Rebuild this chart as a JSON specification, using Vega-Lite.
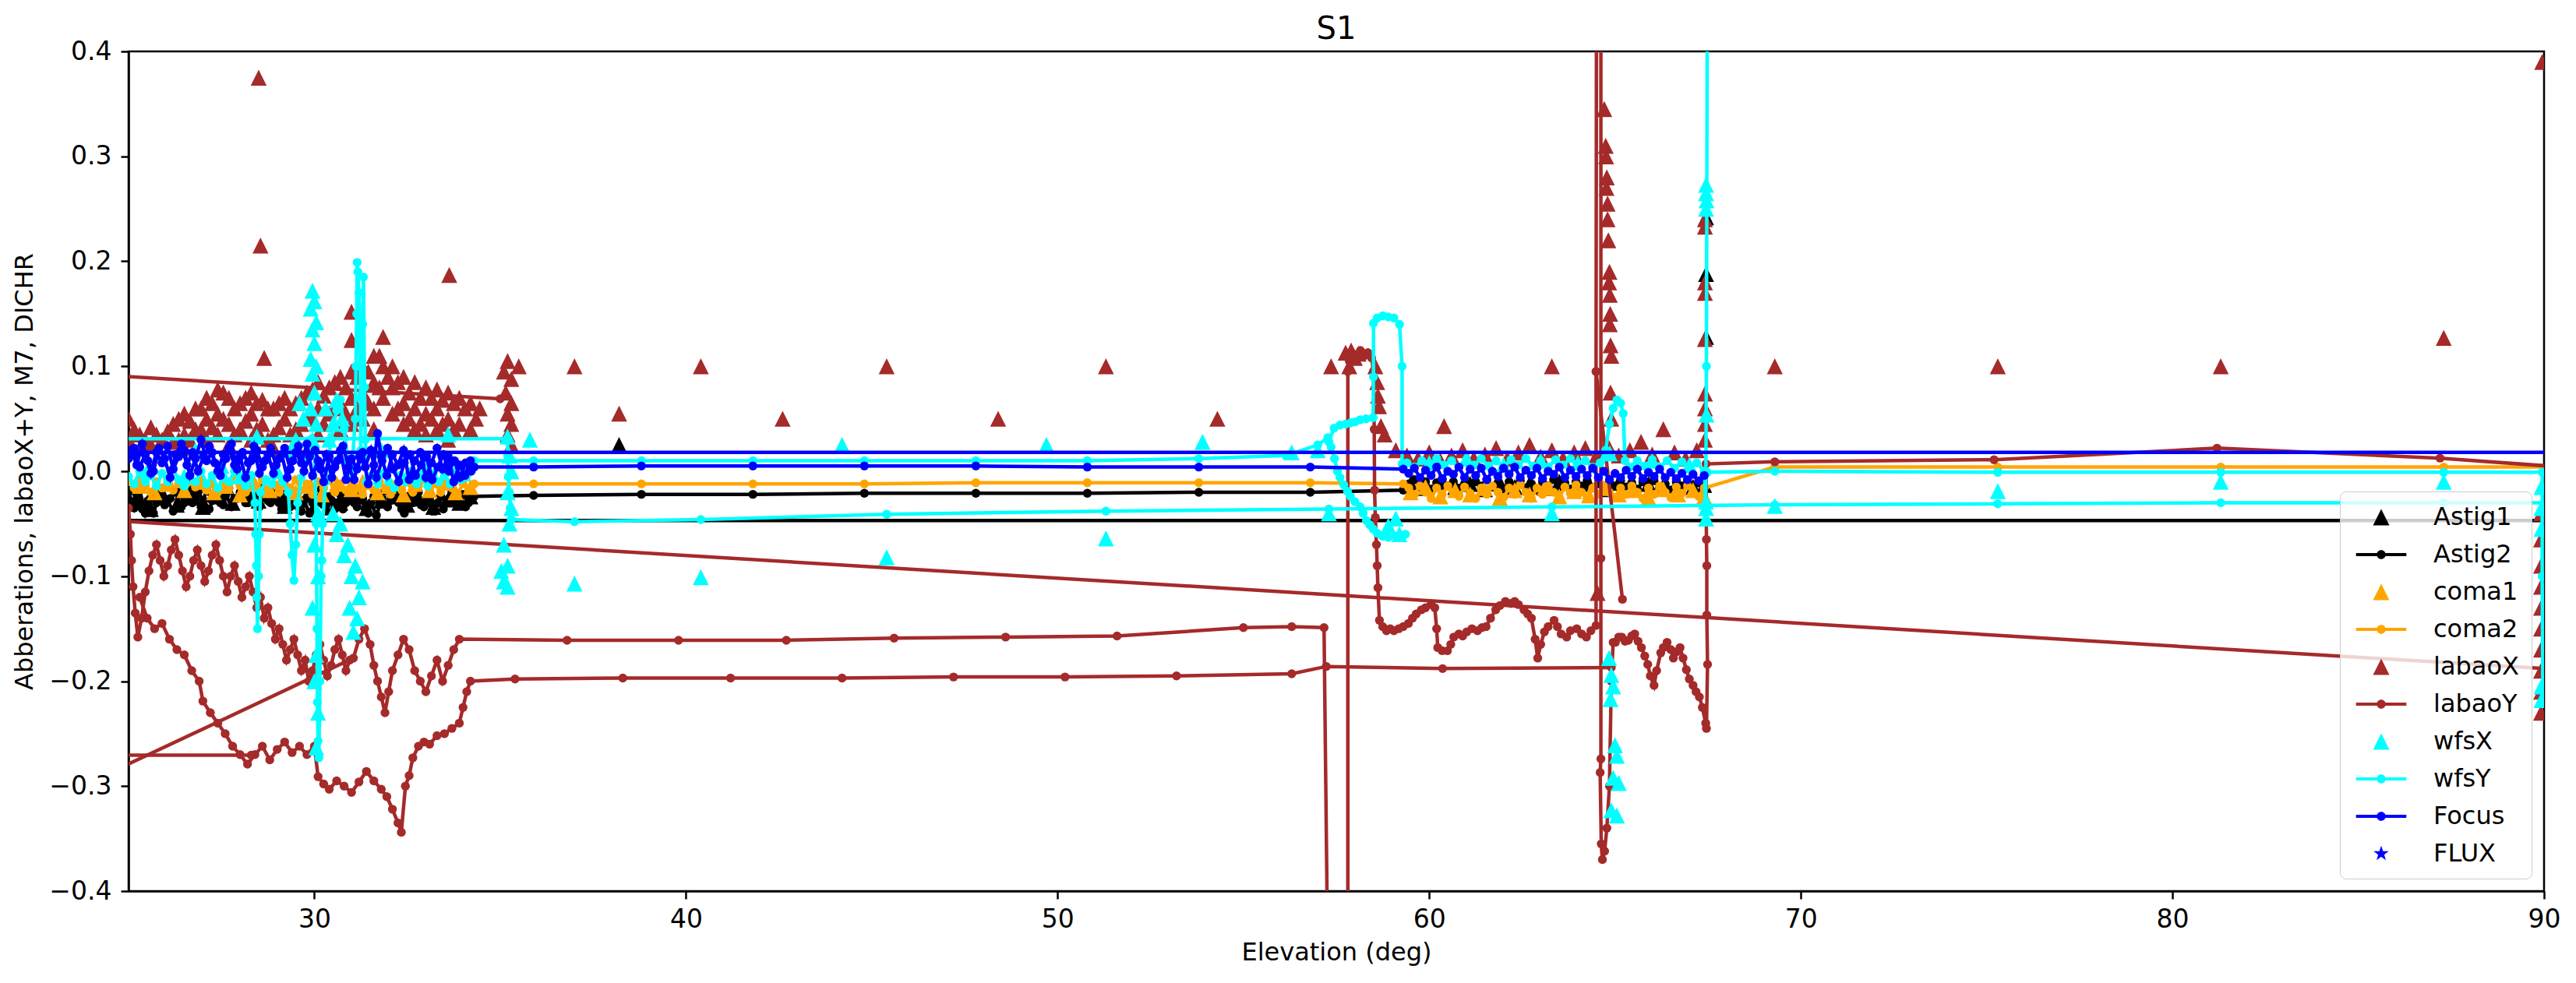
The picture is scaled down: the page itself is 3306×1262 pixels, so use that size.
{
  "$schema": "https://vega.github.io/schema/vega-lite/v6.json",
  "width": 3100,
  "height": 1078,
  "autosize": {"type": "none"},
  "padding": {"left": 165, "top": 66, "right": 41, "bottom": 118},
  "background": "white",
  "config": {
    "font": "DejaVu Sans",
    "view": {"stroke": "black", "strokeWidth": 2.5},
    "axis": {
      "grid": false, "domainColor": "black", "domainWidth": 2.5,
      "tickColor": "black", "tickWidth": 2.5, "tickSize": 10,
      "labelFont": "DejaVu Sans", "labelFontSize": 33, "labelColor": "black",
      "labelFlush": false, "labelOverlap": false,
      "titleFont": "DejaVu Sans", "titleFontSize": 32, "titleFontWeight": "normal", "titleColor": "black",
      "zindex": 1
    }
  },
  "title": {"text": "S1", "font": "DejaVu Sans", "fontSize": 40, "fontWeight": "normal", "color": "black", "offset": 0, "dy": 40, "anchor": "middle", "frame": "group", "baseline": "alphabetic"},
  "datasets": {
    "A1": [{"x":25.2,"y":-0.028},{"x":25.6,"y":-0.036},{"x":25.9,"y":-0.022},{"x":26.3,"y":-0.032},{"x":26.7,"y":-0.025},{"x":27.0,"y":-0.034},{"x":27.4,"y":-0.024},{"x":27.8,"y":-0.03},{"x":28.1,"y":-0.02},{"x":28.5,"y":-0.028},{"x":28.9,"y":-0.024},{"x":29.2,"y":-0.033},{"x":29.6,"y":-0.027},{"x":30.0,"y":-0.036},{"x":30.3,"y":-0.025},{"x":30.7,"y":-0.03},{"x":31.0,"y":-0.022},{"x":31.4,"y":-0.035},{"x":31.8,"y":-0.028},{"x":32.1,"y":-0.024},{"x":32.5,"y":-0.032},{"x":32.8,"y":-0.026},{"x":33.2,"y":-0.034},{"x":33.6,"y":-0.027},{"x":33.9,"y":-0.03},{"x":34.2,"y":-0.024},{"x":38.2,"y":0.025},{"x":59.5,"y":-0.012},{"x":59.9,"y":-0.016},{"x":60.3,"y":-0.01},{"x":60.7,"y":-0.015},{"x":61.1,"y":-0.012},{"x":61.5,"y":-0.017},{"x":61.9,"y":-0.011},{"x":62.3,"y":-0.015},{"x":62.7,"y":-0.012},{"x":63.1,"y":-0.016},{"x":63.5,"y":-0.01},{"x":63.9,"y":-0.015},{"x":64.3,"y":-0.012},{"x":64.7,"y":-0.017},{"x":65.1,"y":-0.011},{"x":65.5,"y":-0.015},{"x":65.9,"y":-0.012},{"x":66.3,"y":-0.016},{"x":66.7,"y":-0.012},{"x":67.1,"y":-0.015},{"x":67.4,"y":-0.013},{"x":67.45,"y":0.128},{"x":67.45,"y":0.188},{"x":67.45,"y":0.242}],
    "A2": [{"x":25.0,"y":-0.02},{"x":25.15,"y":-0.035},{"x":25.3,"y":-0.018},{"x":25.45,"y":-0.04},{"x":25.6,"y":-0.025},{"x":25.75,"y":-0.03},{"x":25.9,"y":-0.016},{"x":26.05,"y":-0.028},{"x":26.2,"y":-0.038},{"x":26.35,"y":-0.02},{"x":26.5,"y":-0.03},{"x":26.65,"y":-0.015},{"x":26.8,"y":-0.026},{"x":26.95,"y":-0.034},{"x":27.1,"y":-0.018},{"x":27.25,"y":-0.028},{"x":27.4,"y":-0.022},{"x":27.55,"y":-0.032},{"x":27.7,"y":-0.016},{"x":27.85,"y":-0.026},{"x":28.0,"y":-0.02},{"x":28.15,"y":-0.03},{"x":28.3,"y":-0.018},{"x":28.45,"y":-0.024},{"x":28.6,"y":-0.016},{"x":28.75,"y":-0.028},{"x":28.9,"y":-0.02},{"x":29.05,"y":-0.03},{"x":29.2,"y":-0.022},{"x":29.35,"y":-0.034},{"x":29.5,"y":-0.02},{"x":29.65,"y":-0.038},{"x":29.8,"y":-0.025},{"x":29.95,"y":-0.03},{"x":30.1,"y":-0.018},{"x":30.25,"y":-0.032},{"x":30.4,"y":-0.024},{"x":30.55,"y":-0.036},{"x":30.7,"y":-0.022},{"x":30.85,"y":-0.03},{"x":31.0,"y":-0.02},{"x":31.15,"y":-0.034},{"x":31.3,"y":-0.026},{"x":31.45,"y":-0.04},{"x":31.6,"y":-0.024},{"x":31.75,"y":-0.03},{"x":31.9,"y":-0.018},{"x":32.05,"y":-0.028},{"x":32.2,"y":-0.022},{"x":32.35,"y":-0.036},{"x":32.5,"y":-0.024},{"x":32.65,"y":-0.03},{"x":32.8,"y":-0.02},{"x":32.95,"y":-0.034},{"x":33.1,"y":-0.026},{"x":33.25,"y":-0.038},{"x":33.4,"y":-0.024},{"x":33.55,"y":-0.03},{"x":33.7,"y":-0.02},{"x":33.85,"y":-0.032},{"x":34.0,"y":-0.022},{"x":34.15,"y":-0.03},{"x":34.3,"y":-0.024},{"x":35.9,"y":-0.023},{"x":38.8,"y":-0.022},{"x":41.8,"y":-0.022},{"x":44.8,"y":-0.021},{"x":47.8,"y":-0.021},{"x":50.8,"y":-0.021},{"x":53.8,"y":-0.02},{"x":56.8,"y":-0.02},{"x":59.3,"y":-0.018},{"x":59.45,"y":-0.012},{"x":59.6,"y":-0.008},{"x":59.75,"y":-0.015},{"x":59.9,"y":-0.01},{"x":60.05,"y":-0.017},{"x":60.2,"y":-0.011},{"x":60.35,"y":-0.008},{"x":60.5,"y":-0.014},{"x":60.65,"y":-0.01},{"x":60.8,"y":-0.016},{"x":60.95,"y":-0.012},{"x":61.1,"y":-0.018},{"x":61.25,"y":-0.01},{"x":61.4,"y":-0.014},{"x":61.55,"y":-0.008},{"x":61.7,"y":-0.015},{"x":61.85,"y":-0.011},{"x":62.0,"y":-0.017},{"x":62.15,"y":-0.01},{"x":62.3,"y":-0.014},{"x":62.45,"y":-0.009},{"x":62.6,"y":-0.016},{"x":62.75,"y":-0.012},{"x":62.9,"y":-0.018},{"x":63.05,"y":-0.01},{"x":63.2,"y":-0.014},{"x":63.35,"y":-0.008},{"x":63.5,"y":-0.015},{"x":63.65,"y":-0.011},{"x":63.8,"y":-0.017},{"x":63.95,"y":-0.01},{"x":64.1,"y":-0.014},{"x":64.25,"y":-0.009},{"x":64.4,"y":-0.016},{"x":64.55,"y":-0.012},{"x":64.7,"y":-0.018},{"x":64.85,"y":-0.01},{"x":65.0,"y":-0.014},{"x":65.15,"y":-0.009},{"x":65.3,"y":-0.015},{"x":65.45,"y":-0.011},{"x":65.6,"y":-0.017},{"x":65.75,"y":-0.01},{"x":65.9,"y":-0.014},{"x":66.05,"y":-0.009},{"x":66.2,"y":-0.016},{"x":66.35,"y":-0.012},{"x":66.5,"y":-0.018},{"x":66.65,"y":-0.01},{"x":66.8,"y":-0.014},{"x":66.95,"y":-0.009},{"x":67.1,"y":-0.015},{"x":67.25,"y":-0.011},{"x":67.4,"y":-0.016},{"g":2,"x":24.0,"y":-0.047},{"g":2,"x":91.0,"y":-0.047},
      {"g":3,"x":25.07,"y":-0.03},{"g":3,"x":25.22,"y":-0.022},{"g":3,"x":25.37,"y":-0.036},{"g":3,"x":25.52,"y":-0.028},{"g":3,"x":25.67,"y":-0.04},{"g":3,"x":25.82,"y":-0.022},{"g":3,"x":25.97,"y":-0.032},{"g":3,"x":26.12,"y":-0.026},{"g":3,"x":26.27,"y":-0.02},{"g":3,"x":26.42,"y":-0.034},{"g":3,"x":26.57,"y":-0.024},{"g":3,"x":26.72,"y":-0.03},{"g":3,"x":26.87,"y":-0.02},{"g":3,"x":27.02,"y":-0.028},{"g":3,"x":27.17,"y":-0.036},{"g":3,"x":27.32,"y":-0.024},{"g":3,"x":27.47,"y":-0.03},{"g":3,"x":27.62,"y":-0.022},{"g":3,"x":27.77,"y":-0.034},{"g":3,"x":27.92,"y":-0.026},{"g":3,"x":28.07,"y":-0.018},{"g":3,"x":28.22,"y":-0.03},{"g":3,"x":28.37,"y":-0.024},{"g":3,"x":28.52,"y":-0.034},{"g":3,"x":28.67,"y":-0.022},{"g":3,"x":28.82,"y":-0.03},{"g":3,"x":28.97,"y":-0.026},{"g":3,"x":29.12,"y":-0.036},{"g":3,"x":29.27,"y":-0.028},{"g":3,"x":29.42,"y":-0.024},{"g":3,"x":29.57,"y":-0.034},{"g":3,"x":29.72,"y":-0.028},{"g":3,"x":29.87,"y":-0.04},{"g":3,"x":30.02,"y":-0.026},{"g":3,"x":30.17,"y":-0.03},{"g":3,"x":30.32,"y":-0.038},{"g":3,"x":30.47,"y":-0.028},{"g":3,"x":30.62,"y":-0.03},{"g":3,"x":30.77,"y":-0.036},{"g":3,"x":30.92,"y":-0.026},{"g":3,"x":31.07,"y":-0.03},{"g":3,"x":31.22,"y":-0.024},{"g":3,"x":31.37,"y":-0.036},{"g":3,"x":31.52,"y":-0.03},{"g":3,"x":31.67,"y":-0.042},{"g":3,"x":31.82,"y":-0.026},{"g":3,"x":31.97,"y":-0.034},{"g":3,"x":32.12,"y":-0.026},{"g":3,"x":32.27,"y":-0.03},{"g":3,"x":32.42,"y":-0.04},{"g":3,"x":32.57,"y":-0.028},{"g":3,"x":32.72,"y":-0.024},{"g":3,"x":32.87,"y":-0.032},{"g":3,"x":33.02,"y":-0.026},{"g":3,"x":33.17,"y":-0.038},{"g":3,"x":33.32,"y":-0.03},{"g":3,"x":33.47,"y":-0.036},{"g":3,"x":33.62,"y":-0.026},{"g":3,"x":33.77,"y":-0.03},{"g":3,"x":33.92,"y":-0.024},{"g":3,"x":34.07,"y":-0.034},{"g":3,"x":34.22,"y":-0.026}],
    "C1": [{"x":25.3,"y":-0.014},{"x":25.7,"y":-0.02},{"x":26.1,"y":-0.012},{"x":26.5,"y":-0.018},{"x":26.9,"y":-0.01},{"x":27.3,"y":-0.02},{"x":27.6,"y":-0.014},{"x":28.0,"y":-0.022},{"x":28.4,"y":-0.012},{"x":28.8,"y":-0.018},{"x":29.1,"y":-0.01},{"x":29.5,"y":-0.02},{"x":29.9,"y":-0.014},{"x":30.2,"y":-0.022},{"x":30.6,"y":-0.012},{"x":31.0,"y":-0.017},{"x":31.3,"y":-0.01},{"x":31.7,"y":-0.02},{"x":32.0,"y":-0.014},{"x":32.4,"y":-0.022},{"x":32.7,"y":-0.012},{"x":33.1,"y":-0.018},{"x":33.5,"y":-0.011},{"x":33.8,"y":-0.02},{"x":34.2,"y":-0.015},{"x":59.5,"y":-0.02},{"x":59.9,"y":-0.015},{"x":60.3,"y":-0.024},{"x":60.7,"y":-0.018},{"x":61.1,"y":-0.022},{"x":61.5,"y":-0.016},{"x":61.9,"y":-0.025},{"x":62.3,"y":-0.018},{"x":62.7,"y":-0.022},{"x":63.1,"y":-0.016},{"x":63.5,"y":-0.024},{"x":63.9,"y":-0.019},{"x":64.3,"y":-0.023},{"x":64.7,"y":-0.016},{"x":65.1,"y":-0.022},{"x":65.5,"y":-0.018},{"x":65.9,"y":-0.025},{"x":66.3,"y":-0.017},{"x":66.7,"y":-0.022},{"x":67.1,"y":-0.018},{"x":67.4,"y":-0.024}],
    "C2": [{"x":25.0,"y":-0.01},{"x":25.15,"y":-0.016},{"x":25.3,"y":-0.008},{"x":25.45,"y":-0.014},{"x":25.6,"y":-0.02},{"x":25.75,"y":-0.01},{"x":25.9,"y":-0.016},{"x":26.05,"y":-0.008},{"x":26.2,"y":-0.018},{"x":26.35,"y":-0.012},{"x":26.5,"y":-0.02},{"x":26.65,"y":-0.01},{"x":26.8,"y":-0.015},{"x":26.95,"y":-0.008},{"x":27.1,"y":-0.018},{"x":27.25,"y":-0.012},{"x":27.4,"y":-0.02},{"x":27.55,"y":-0.01},{"x":27.7,"y":-0.016},{"x":27.85,"y":-0.008},{"x":28.0,"y":-0.014},{"x":28.15,"y":-0.02},{"x":28.3,"y":-0.01},{"x":28.45,"y":-0.016},{"x":28.6,"y":-0.008},{"x":28.75,"y":-0.018},{"x":28.9,"y":-0.012},{"x":29.05,"y":-0.02},{"x":29.2,"y":-0.01},{"x":29.35,"y":-0.016},{"x":29.5,"y":-0.008},{"x":29.65,"y":-0.018},{"x":29.8,"y":-0.012},{"x":29.95,"y":-0.022},{"x":30.1,"y":-0.01},{"x":30.25,"y":-0.016},{"x":30.4,"y":-0.008},{"x":30.55,"y":-0.02},{"x":30.7,"y":-0.012},{"x":30.85,"y":-0.018},{"x":31.0,"y":-0.01},{"x":31.15,"y":-0.016},{"x":31.3,"y":-0.022},{"x":31.45,"y":-0.012},{"x":31.6,"y":-0.018},{"x":31.75,"y":-0.01},{"x":31.9,"y":-0.016},{"x":32.05,"y":-0.022},{"x":32.2,"y":-0.012},{"x":32.35,"y":-0.018},{"x":32.5,"y":-0.01},{"x":32.65,"y":-0.02},{"x":32.8,"y":-0.014},{"x":32.95,"y":-0.008},{"x":33.1,"y":-0.018},{"x":33.25,"y":-0.012},{"x":33.4,"y":-0.02},{"x":33.55,"y":-0.01},{"x":33.7,"y":-0.016},{"x":33.85,"y":-0.022},{"x":34.0,"y":-0.012},{"x":34.15,"y":-0.018},{"x":34.3,"y":-0.012},{"x":35.9,"y":-0.012},{"x":38.8,"y":-0.012},{"x":41.8,"y":-0.012},{"x":44.8,"y":-0.012},{"x":47.8,"y":-0.011},{"x":50.8,"y":-0.011},{"x":53.8,"y":-0.011},{"x":56.8,"y":-0.011},{"x":59.3,"y":-0.012},{"x":59.45,"y":-0.016},{"x":59.6,"y":-0.022},{"x":59.75,"y":-0.014},{"x":59.9,"y":-0.02},{"x":60.05,"y":-0.026},{"x":60.2,"y":-0.016},{"x":60.35,"y":-0.022},{"x":60.5,"y":-0.014},{"x":60.65,"y":-0.02},{"x":60.8,"y":-0.024},{"x":60.95,"y":-0.015},{"x":61.1,"y":-0.021},{"x":61.25,"y":-0.026},{"x":61.4,"y":-0.016},{"x":61.55,"y":-0.022},{"x":61.7,"y":-0.014},{"x":61.85,"y":-0.02},{"x":62.0,"y":-0.025},{"x":62.15,"y":-0.016},{"x":62.3,"y":-0.022},{"x":62.45,"y":-0.013},{"x":62.6,"y":-0.02},{"x":62.75,"y":-0.026},{"x":62.9,"y":-0.016},{"x":63.05,"y":-0.022},{"x":63.2,"y":-0.014},{"x":63.35,"y":-0.02},{"x":63.5,"y":-0.025},{"x":63.65,"y":-0.015},{"x":63.8,"y":-0.021},{"x":63.95,"y":-0.013},{"x":64.1,"y":-0.02},{"x":64.25,"y":-0.026},{"x":64.4,"y":-0.016},{"x":64.55,"y":-0.022},{"x":64.7,"y":-0.014},{"x":64.85,"y":-0.02},{"x":65.0,"y":-0.025},{"x":65.15,"y":-0.016},{"x":65.3,"y":-0.022},{"x":65.45,"y":-0.014},{"x":65.6,"y":-0.02},{"x":65.75,"y":-0.026},{"x":65.9,"y":-0.016},{"x":66.05,"y":-0.022},{"x":66.2,"y":-0.014},{"x":66.35,"y":-0.02},{"x":66.5,"y":-0.025},{"x":66.65,"y":-0.015},{"x":66.8,"y":-0.021},{"x":66.95,"y":-0.014},{"x":67.1,"y":-0.02},{"x":67.25,"y":-0.024},{"x":67.4,"y":-0.016},{"x":69.3,"y":0.004},{"x":75.3,"y":0.004},{"x":81.3,"y":0.004},{"x":87.3,"y":0.004},{"x":90.5,"y":0.004}],
    "LX": [{"x":28.5,"y":0.375},{"x":28.55,"y":0.215},{"x":28.65,"y":0.108},{"x":31.0,"y":0.152},{"x":31.0,"y":0.125},{"x":33.63,"y":0.187},{"x":25.0,"y":0.05},{"x":25.0,"y":0.03},{"x":25.3,"y":0.035},{"x":25.3,"y":0.022},{"x":25.6,"y":0.042},{"x":25.6,"y":0.025},{"x":25.9,"y":0.03},{"x":26.2,"y":0.045},{"x":26.2,"y":0.028},{"x":26.5,"y":0.055},{"x":26.5,"y":0.035},{"x":26.5,"y":0.022},{"x":26.8,"y":0.06},{"x":26.8,"y":0.04},{"x":27.1,"y":0.07},{"x":27.1,"y":0.05},{"x":27.1,"y":0.03},{"x":27.4,"y":0.078},{"x":27.4,"y":0.055},{"x":27.4,"y":0.035},{"x":27.7,"y":0.07},{"x":27.7,"y":0.045},{"x":27.7,"y":0.025},{"x":28.0,"y":0.065},{"x":28.0,"y":0.04},{"x":28.3,"y":0.075},{"x":28.3,"y":0.055},{"x":28.3,"y":0.03},{"x":28.6,"y":0.068},{"x":28.6,"y":0.045},{"x":28.9,"y":0.06},{"x":28.9,"y":0.035},{"x":28.9,"y":0.022},{"x":29.2,"y":0.07},{"x":29.2,"y":0.05},{"x":29.5,"y":0.065},{"x":29.5,"y":0.04},{"x":29.5,"y":0.025},{"x":29.8,"y":0.075},{"x":29.8,"y":0.05},{"x":30.1,"y":0.085},{"x":30.1,"y":0.06},{"x":30.1,"y":0.035},{"x":30.4,"y":0.08},{"x":30.4,"y":0.055},{"x":30.7,"y":0.09},{"x":30.7,"y":0.065},{"x":30.7,"y":0.04},{"x":31.0,"y":0.095},{"x":31.0,"y":0.07},{"x":31.0,"y":0.045},{"x":31.3,"y":0.1},{"x":31.3,"y":0.075},{"x":31.3,"y":0.05},{"x":31.6,"y":0.11},{"x":31.6,"y":0.085},{"x":31.6,"y":0.06},{"x":31.6,"y":0.04},{"x":31.85,"y":0.128},{"x":31.85,"y":0.1},{"x":31.85,"y":0.07},{"x":32.1,"y":0.1},{"x":32.1,"y":0.08},{"x":32.1,"y":0.055},{"x":32.4,"y":0.09},{"x":32.4,"y":0.065},{"x":32.4,"y":0.045},{"x":32.7,"y":0.085},{"x":32.7,"y":0.06},{"x":32.7,"y":0.04},{"x":33.0,"y":0.08},{"x":33.0,"y":0.055},{"x":33.0,"y":0.035},{"x":33.3,"y":0.078},{"x":33.3,"y":0.06},{"x":33.3,"y":0.04},{"x":33.6,"y":0.075},{"x":33.6,"y":0.05},{"x":33.6,"y":0.03},{"x":33.9,"y":0.07},{"x":33.9,"y":0.045},{"x":34.2,"y":0.065},{"x":34.2,"y":0.04},{"x":34.45,"y":0.06},{"x":25.15,"y":0.04},{"x":25.45,"y":0.03},{"x":25.75,"y":0.035},{"x":26.05,"y":0.038},{"x":26.35,"y":0.05},{"x":26.35,"y":0.03},{"x":26.65,"y":0.048},{"x":26.65,"y":0.03},{"x":26.95,"y":0.06},{"x":26.95,"y":0.04},{"x":27.25,"y":0.065},{"x":27.25,"y":0.042},{"x":27.55,"y":0.075},{"x":27.55,"y":0.05},{"x":27.85,"y":0.06},{"x":27.85,"y":0.035},{"x":28.15,"y":0.07},{"x":28.15,"y":0.048},{"x":28.45,"y":0.065},{"x":28.45,"y":0.04},{"x":28.75,"y":0.06},{"x":28.75,"y":0.03},{"x":29.05,"y":0.065},{"x":29.05,"y":0.042},{"x":29.35,"y":0.06},{"x":29.35,"y":0.035},{"x":29.65,"y":0.07},{"x":29.65,"y":0.045},{"x":29.95,"y":0.078},{"x":29.95,"y":0.05},{"x":30.25,"y":0.072},{"x":30.25,"y":0.045},{"x":30.55,"y":0.085},{"x":30.55,"y":0.06},{"x":30.85,"y":0.08},{"x":30.85,"y":0.055},{"x":31.15,"y":0.09},{"x":31.15,"y":0.06},{"x":31.45,"y":0.095},{"x":31.45,"y":0.065},{"x":31.75,"y":0.11},{"x":31.75,"y":0.08},{"x":31.98,"y":0.09},{"x":32.25,"y":0.085},{"x":32.25,"y":0.06},{"x":32.55,"y":0.075},{"x":32.55,"y":0.05},{"x":32.85,"y":0.07},{"x":32.85,"y":0.045},{"x":33.15,"y":0.07},{"x":33.15,"y":0.05},{"x":33.45,"y":0.068},{"x":33.45,"y":0.045},{"x":33.75,"y":0.065},{"x":33.75,"y":0.04},{"x":34.05,"y":0.06},{"x":34.35,"y":0.05},{"x":35.1,"y":0.095},{"x":35.2,"y":0.105},{"x":35.3,"y":0.088},{"x":35.15,"y":0.075},{"x":35.3,"y":0.065},{"x":35.2,"y":0.055},{"x":35.3,"y":0.045},{"x":35.2,"y":0.035},{"x":35.3,"y":0.025},{"x":35.5,"y":0.1},{"x":37.0,"y":0.1},{"x":38.2,"y":0.055},{"x":40.4,"y":0.1},{"x":42.6,"y":0.05},{"x":45.4,"y":0.1},{"x":48.4,"y":0.05},{"x":51.3,"y":0.1},{"x":54.3,"y":0.05},{"x":57.36,"y":0.1},{"x":57.75,"y":0.113},{"x":57.9,"y":0.115},{"x":58.0,"y":0.108},{"x":58.1,"y":0.112},{"x":57.85,"y":0.1},{"x":58.55,"y":0.1},{"x":58.6,"y":0.085},{"x":58.62,"y":0.072},{"x":58.65,"y":0.062},{"x":58.7,"y":0.043},{"x":58.8,"y":0.035},{"x":59.1,"y":0.02},{"x":59.4,"y":0.015},{"x":59.7,"y":0.012},{"x":60.0,"y":0.018},{"x":60.4,"y":0.043},{"x":60.3,"y":0.01},{"x":60.6,"y":0.015},{"x":60.9,"y":0.02},{"x":61.2,"y":0.012},{"x":61.5,"y":0.016},{"x":61.8,"y":0.022},{"x":62.1,"y":0.012},{"x":62.4,"y":0.018},{"x":62.7,"y":0.025},{"x":63.0,"y":0.014},{"x":63.3,"y":0.1},{"x":63.3,"y":0.02},{"x":63.6,"y":0.012},{"x":63.9,"y":0.018},{"x":64.2,"y":0.022},{"x":64.5,"y":0.015},{"x":64.8,"y":0.025},{"x":65.1,"y":0.015},{"x":65.4,"y":0.02},{"x":65.7,"y":0.028},{"x":66.0,"y":0.016},{"x":66.3,"y":0.04},{"x":66.6,"y":0.018},{"x":66.9,"y":0.012},{"x":67.2,"y":0.02},{"x":64.71,"y":0.345},{"x":64.75,"y":0.31},{"x":64.76,"y":0.3},{"x":64.78,"y":0.28},{"x":64.77,"y":0.27},{"x":64.8,"y":0.255},{"x":64.8,"y":0.24},{"x":64.82,"y":0.22},{"x":64.85,"y":0.19},{"x":64.84,"y":0.18},{"x":64.86,"y":0.168},{"x":64.87,"y":0.15},{"x":64.86,"y":0.14},{"x":64.88,"y":0.12},{"x":64.9,"y":0.11},{"x":64.88,"y":0.075},{"x":64.9,"y":0.05},{"x":64.53,"y":-0.116},{"x":67.42,"y":0.24},{"x":67.42,"y":0.233},{"x":67.42,"y":0.18},{"x":67.42,"y":0.17},{"x":67.42,"y":0.126},{"x":67.42,"y":0.074},{"x":67.42,"y":0.06},{"x":67.42,"y":0.045},{"x":67.42,"y":0.03},{"x":69.3,"y":0.1},{"x":75.3,"y":0.1},{"x":81.3,"y":0.1},{"x":87.3,"y":0.127},{"x":89.95,"y":0.39},{"x":89.92,"y":-0.04},{"x":89.92,"y":-0.065},{"x":89.92,"y":-0.09},{"x":89.92,"y":-0.11},{"x":89.92,"y":-0.13},{"x":89.92,"y":-0.15},{"x":89.92,"y":-0.17},{"x":89.92,"y":-0.19},{"x":89.92,"y":-0.21},{"x":89.92,"y":-0.23}],
    "LY": [{"x":25.0,"y":-0.035},{"x":25.05,"y":-0.06},{"x":25.08,"y":-0.085},{"x":25.12,"y":-0.11},{"x":25.18,"y":-0.135},{"x":25.25,"y":-0.158},{"x":25.35,"y":-0.14},{"x":25.45,"y":-0.115},{"x":25.55,"y":-0.095},{"x":25.65,"y":-0.08},{"x":25.75,"y":-0.07},{"x":25.85,"y":-0.085},{"x":25.95,"y":-0.1},{"x":26.05,"y":-0.09},{"x":26.15,"y":-0.075},{"x":26.25,"y":-0.065},{"x":26.35,"y":-0.08},{"x":26.45,"y":-0.095},{"x":26.55,"y":-0.11},{"x":26.65,"y":-0.1},{"x":26.75,"y":-0.085},{"x":26.85,"y":-0.075},{"x":26.95,"y":-0.09},{"x":27.05,"y":-0.105},{"x":27.15,"y":-0.095},{"x":27.25,"y":-0.08},{"x":27.35,"y":-0.07},{"x":27.45,"y":-0.085},{"x":27.55,"y":-0.1},{"x":27.65,"y":-0.115},{"x":27.75,"y":-0.1},{"x":27.85,"y":-0.09},{"x":27.95,"y":-0.105},{"x":28.05,"y":-0.12},{"x":28.15,"y":-0.11},{"x":28.25,"y":-0.1},{"x":28.35,"y":-0.115},{"x":28.45,"y":-0.13},{"x":28.55,"y":-0.12},{"x":28.65,"y":-0.14},{"x":28.75,"y":-0.13},{"x":28.85,"y":-0.145},{"x":28.95,"y":-0.16},{"x":29.05,"y":-0.15},{"x":29.15,"y":-0.165},{"x":29.25,"y":-0.18},{"x":29.35,"y":-0.17},{"x":29.45,"y":-0.16},{"x":29.55,"y":-0.175},{"x":29.65,"y":-0.19},{"x":29.75,"y":-0.18},{"x":29.85,"y":-0.2},{"x":29.95,"y":-0.19},{"x":30.05,"y":-0.175},{"x":30.15,"y":-0.165},{"x":30.25,"y":-0.18},{"x":30.35,"y":-0.195},{"x":30.45,"y":-0.185},{"x":30.55,"y":-0.17},{"x":30.65,"y":-0.16},{"x":30.75,"y":-0.175},{"x":30.85,"y":-0.19},{"x":30.95,"y":-0.18},
      {"g":2,"x":25.3,"y":-0.12},{"g":2,"x":25.5,"y":-0.14},{"g":2,"x":25.7,"y":-0.15},{"g":2,"x":25.9,"y":-0.145},{"g":2,"x":26.1,"y":-0.16},{"g":2,"x":26.3,"y":-0.17},{"g":2,"x":26.5,"y":-0.175},{"g":2,"x":26.7,"y":-0.19},{"g":2,"x":26.9,"y":-0.2},{"g":2,"x":27.0,"y":-0.219},{"g":2,"x":27.2,"y":-0.23},{"g":2,"x":27.4,"y":-0.24},{"g":2,"x":27.6,"y":-0.25},{"g":2,"x":27.8,"y":-0.262},{"g":2,"x":28.0,"y":-0.27},{"g":2,"x":28.2,"y":-0.279},{"g":2,"x":28.4,"y":-0.27},{"g":2,"x":28.6,"y":-0.262},{"g":2,"x":28.8,"y":-0.275},{"g":2,"x":29.0,"y":-0.265},{"g":2,"x":29.2,"y":-0.258},{"g":2,"x":29.4,"y":-0.268},{"g":2,"x":29.6,"y":-0.262},{"g":2,"x":29.8,"y":-0.27},{"g":2,"x":30.0,"y":-0.262},{"g":2,"x":30.1,"y":-0.291},{"g":2,"x":30.25,"y":-0.298},{"g":2,"x":30.4,"y":-0.303},{"g":2,"x":30.6,"y":-0.295},{"g":2,"x":30.8,"y":-0.3},{"g":2,"x":31.0,"y":-0.306},{"g":2,"x":31.2,"y":-0.296},{"g":2,"x":31.4,"y":-0.286},{"g":2,"x":31.6,"y":-0.295},{"g":2,"x":31.8,"y":-0.303},{"g":2,"x":31.95,"y":-0.31},{"g":2,"x":32.1,"y":-0.322},{"g":2,"x":32.25,"y":-0.335},{"g":2,"x":32.34,"y":-0.344},{"g":2,"x":32.45,"y":-0.3},{"g":2,"x":32.55,"y":-0.29},{"g":2,"x":32.65,"y":-0.273},{"g":2,"x":32.8,"y":-0.262},{"g":2,"x":32.95,"y":-0.258},{"g":2,"x":33.1,"y":-0.26},{"g":2,"x":33.3,"y":-0.252},{"g":2,"x":33.5,"y":-0.25},{"g":2,"x":33.7,"y":-0.245},{"g":2,"x":33.9,"y":-0.24},{"g":2,"x":34.0,"y":-0.225},{"g":2,"x":34.1,"y":-0.21},{"g":2,"x":34.2,"y":-0.2},{"g":2,"x":35.4,"y":-0.198},{"g":2,"x":38.3,"y":-0.197},{"g":2,"x":41.2,"y":-0.197},{"g":2,"x":44.2,"y":-0.197},{"g":2,"x":47.2,"y":-0.196},{"g":2,"x":50.2,"y":-0.196},{"g":2,"x":53.2,"y":-0.195},{"g":2,"x":56.3,"y":-0.193},{"g":2,"x":57.23,"y":-0.186},{"g":2,"x":60.36,"y":-0.188},{"g":2,"x":64.9,"y":-0.187},
      {"g":3,"x":24.0,"y":-0.2956},{"g":3,"x":31.05,"y":-0.178},{"g":3,"x":31.2,"y":-0.16},{"g":3,"x":31.35,"y":-0.15},{"g":3,"x":31.5,"y":-0.165},{"g":3,"x":31.6,"y":-0.185},{"g":3,"x":31.7,"y":-0.2},{"g":3,"x":31.8,"y":-0.215},{"g":3,"x":31.9,"y":-0.23},{"g":3,"x":32.0,"y":-0.21},{"g":3,"x":32.1,"y":-0.19},{"g":3,"x":32.25,"y":-0.175},{"g":3,"x":32.4,"y":-0.16},{"g":3,"x":32.55,"y":-0.17},{"g":3,"x":32.7,"y":-0.19},{"g":3,"x":32.85,"y":-0.2},{"g":3,"x":33.0,"y":-0.21},{"g":3,"x":33.15,"y":-0.195},{"g":3,"x":33.3,"y":-0.18},{"g":3,"x":33.45,"y":-0.2},{"g":3,"x":33.6,"y":-0.185},{"g":3,"x":33.75,"y":-0.17},{"g":3,"x":33.9,"y":-0.16},{"g":3,"x":36.8,"y":-0.161},{"g":3,"x":39.8,"y":-0.161},{"g":3,"x":42.7,"y":-0.161},{"g":3,"x":45.6,"y":-0.159},{"g":3,"x":48.6,"y":-0.158},{"g":3,"x":51.6,"y":-0.157},{"g":3,"x":55.0,"y":-0.149},{"g":3,"x":56.3,"y":-0.148},{"g":3,"x":57.17,"y":-0.149},{"g":3,"x":57.25,"y":-0.405},{"g":3,"x":57.81,"y":-0.405},{"g":3,"x":57.81,"y":0.095},{"g":3,"x":57.85,"y":0.105},{"g":3,"x":57.95,"y":0.112},{"g":3,"x":58.05,"y":0.108},{"g":3,"x":58.15,"y":0.115},{"g":3,"x":58.25,"y":0.11},{"g":3,"x":58.35,"y":0.113},{"g":3,"x":58.45,"y":0.108},{"g":3,"x":58.5,"y":0.095},{"g":3,"x":58.52,"y":0.04},{"g":3,"x":58.53,"y":-0.018},{"g":3,"x":58.55,"y":-0.044},{"g":3,"x":58.58,"y":-0.07},{"g":3,"x":58.6,"y":-0.09},{"g":3,"x":58.62,"y":-0.111},{"g":3,"x":58.66,"y":-0.142},{"g":3,"x":58.75,"y":-0.148},{"g":3,"x":58.85,"y":-0.152},{"g":3,"x":58.95,"y":-0.15},{"g":3,"x":59.05,"y":-0.152},{"g":3,"x":59.18,"y":-0.15},{"g":3,"x":59.3,"y":-0.148},{"g":3,"x":59.44,"y":-0.145},{"g":3,"x":59.55,"y":-0.14},{"g":3,"x":59.65,"y":-0.136},{"g":3,"x":59.79,"y":-0.132},{"g":3,"x":59.9,"y":-0.13},{"g":3,"x":60.05,"y":-0.127},{"g":3,"x":60.15,"y":-0.13},{"g":3,"x":60.2,"y":-0.15},{"g":3,"x":60.23,"y":-0.168},{"g":3,"x":60.35,"y":-0.171},{"g":3,"x":60.49,"y":-0.171},{"g":3,"x":60.58,"y":-0.165},{"g":3,"x":60.66,"y":-0.158},{"g":3,"x":60.8,"y":-0.155},{"g":3,"x":60.9,"y":-0.157},{"g":3,"x":61.01,"y":-0.153},{"g":3,"x":61.15,"y":-0.15},{"g":3,"x":61.3,"y":-0.152},{"g":3,"x":61.42,"y":-0.149},{"g":3,"x":61.53,"y":-0.148},{"g":3,"x":61.65,"y":-0.14},{"g":3,"x":61.79,"y":-0.132},{"g":3,"x":61.9,"y":-0.128},{"g":3,"x":62.05,"y":-0.124},{"g":3,"x":62.2,"y":-0.126},{"g":3,"x":62.3,"y":-0.124},{"g":3,"x":62.4,"y":-0.127},{"g":3,"x":62.55,"y":-0.132},{"g":3,"x":62.65,"y":-0.136},{"g":3,"x":62.75,"y":-0.14},{"g":3,"x":62.85,"y":-0.16},{"g":3,"x":62.92,"y":-0.178},{"g":3,"x":63.0,"y":-0.165},{"g":3,"x":63.1,"y":-0.153},{"g":3,"x":63.2,"y":-0.148},{"g":3,"x":63.36,"y":-0.142},{"g":3,"x":63.45,"y":-0.148},{"g":3,"x":63.55,"y":-0.155},{"g":3,"x":63.7,"y":-0.158},{"g":3,"x":63.8,"y":-0.152},{"g":3,"x":63.97,"y":-0.15},{"g":3,"x":64.1,"y":-0.155},{"g":3,"x":64.23,"y":-0.158},{"g":3,"x":64.35,"y":-0.152},{"g":3,"x":64.49,"y":-0.147},{"g":3,"x":64.49,"y":0.095},{"g":3,"x":64.5,"y":0.405},{"g":3,"x":64.62,"y":0.405},{"g":3,"x":64.62,"y":-0.083},{"g":3,"x":64.62,"y":-0.274},{"g":3,"x":64.6,"y":-0.287},{"g":3,"x":64.63,"y":-0.355},{"g":3,"x":64.66,"y":-0.37},{"g":3,"x":64.72,"y":-0.362},{"g":3,"x":64.78,"y":-0.34},{"g":3,"x":64.85,"y":-0.3},{"g":3,"x":64.9,"y":-0.2},{"g":3,"x":64.95,"y":-0.163},{"g":3,"x":65.01,"y":-0.163},{"g":3,"x":65.1,"y":-0.158},{"g":3,"x":65.18,"y":-0.158},{"g":3,"x":65.27,"y":-0.162},{"g":3,"x":65.36,"y":-0.161},{"g":3,"x":65.45,"y":-0.157},{"g":3,"x":65.53,"y":-0.155},{"g":3,"x":65.62,"y":-0.162},{"g":3,"x":65.71,"y":-0.168},{"g":3,"x":65.8,"y":-0.176},{"g":3,"x":65.88,"y":-0.184},{"g":3,"x":65.95,"y":-0.195},{"g":3,"x":66.05,"y":-0.204},{"g":3,"x":66.12,"y":-0.19},{"g":3,"x":66.23,"y":-0.173},{"g":3,"x":66.3,"y":-0.168},{"g":3,"x":66.4,"y":-0.163},{"g":3,"x":66.5,"y":-0.17},{"g":3,"x":66.57,"y":-0.178},{"g":3,"x":66.66,"y":-0.172},{"g":3,"x":66.75,"y":-0.168},{"g":3,"x":66.83,"y":-0.178},{"g":3,"x":66.92,"y":-0.189},{"g":3,"x":67.0,"y":-0.198},{"g":3,"x":67.1,"y":-0.204},{"g":3,"x":67.18,"y":-0.21},{"g":3,"x":67.27,"y":-0.215},{"g":3,"x":67.35,"y":-0.225},{"g":3,"x":67.44,"y":-0.24},{"g":3,"x":67.46,"y":-0.245},{"g":3,"x":67.49,"y":-0.184},{"g":3,"x":67.47,"y":-0.137},{"g":3,"x":67.47,"y":-0.09},{"g":3,"x":67.46,"y":-0.065},{"g":3,"x":67.45,"y":0.007},{"g":3,"x":69.3,"y":0.009},{"g":3,"x":75.2,"y":0.011},{"g":3,"x":81.2,"y":0.022},{"g":3,"x":87.2,"y":0.0125},{"g":3,"x":90.5,"y":0.004},
      {"g":4,"x":24.0,"y":-0.2705},{"g":4,"x":28.3,"y":-0.2705},
      {"g":5,"x":24.0,"y":0.0922},{"g":5,"x":35.0,"y":0.069},
      {"g":6,"x":24.0,"y":-0.0458},{"g":6,"x":90.0,"y":-0.188},
      {"g":7,"x":64.49,"y":0.095},{"g":7,"x":65.2,"y":-0.122}],
    "WX": [{"x":29.95,"y":0.172},{"x":30.0,"y":0.162},{"x":29.9,"y":0.155},{"x":30.05,"y":0.142},{"x":29.95,"y":0.135},{"x":30.0,"y":0.122},{"x":29.9,"y":0.107},{"x":30.05,"y":0.1},{"x":29.95,"y":0.093},{"x":30.0,"y":0.075},{"x":29.9,"y":0.06},{"x":30.05,"y":0.045},{"x":29.95,"y":0.03},{"x":30.1,"y":-0.04},{"x":30.0,"y":-0.07},{"x":30.1,"y":-0.1},{"x":29.95,"y":-0.13},{"x":30.05,"y":-0.175},{"x":30.0,"y":-0.2},{"x":30.1,"y":-0.23},{"x":30.05,"y":-0.263},{"x":29.5,"y":0.03},{"x":29.7,"y":0.05},{"x":29.6,"y":0.065},{"x":30.3,"y":0.06},{"x":30.5,"y":0.045},{"x":30.6,"y":0.068},{"x":30.75,"y":0.05},{"x":30.4,"y":0.03},{"x":29.4,"y":0.02},{"x":28.45,"y":0.033},{"x":33.6,"y":0.035},{"x":26.8,"y":0.02},{"x":31.8,"y":0.02},{"x":30.5,"y":-0.04},{"x":30.6,"y":-0.06},{"x":30.7,"y":-0.05},{"x":30.8,"y":-0.08},{"x":30.9,"y":-0.07},{"x":31.0,"y":-0.1},{"x":31.1,"y":-0.09},{"x":31.2,"y":-0.12},{"x":31.3,"y":-0.105},{"x":31.05,"y":-0.153},{"x":30.95,"y":-0.13},{"x":31.15,"y":-0.14},{"x":35.2,"y":0.033},{"x":35.25,"y":0.015},{"x":35.3,"y":0.0},{"x":35.2,"y":-0.02},{"x":35.3,"y":-0.035},{"x":35.25,"y":-0.05},{"x":35.1,"y":-0.07},{"x":35.2,"y":-0.09},{"x":35.03,"y":-0.095},{"x":35.1,"y":-0.105},{"x":35.2,"y":-0.11},{"x":25.5,"y":0.0},{"x":26.5,"y":-0.005},{"x":27.5,"y":0.005},{"x":28.0,"y":-0.005},{"x":29.0,"y":0.0},{"x":32.5,"y":-0.004},{"x":33.0,"y":0.004},{"x":34.0,"y":-0.002},{"x":35.8,"y":0.03},{"x":37.0,"y":-0.107},{"x":40.4,"y":-0.101},{"x":44.2,"y":0.025},{"x":45.4,"y":-0.082},{"x":49.7,"y":0.025},{"x":51.3,"y":-0.064},{"x":53.9,"y":0.028},{"x":56.3,"y":0.018},{"x":57.0,"y":0.02},{"x":57.3,"y":-0.04},{"x":58.9,"y":-0.052},{"x":59.2,"y":-0.06},{"x":59.1,"y":-0.045},{"x":60.0,"y":0.008},{"x":61.0,"y":0.012},{"x":62.0,"y":0.006},{"x":63.0,"y":0.01},{"x":64.0,"y":0.008},{"x":66.0,"y":0.01},{"x":67.0,"y":0.006},{"x":63.3,"y":-0.04},{"x":64.84,"y":-0.178},{"x":64.9,"y":-0.194},{"x":64.95,"y":-0.205},{"x":64.88,"y":-0.217},{"x":65.0,"y":-0.261},{"x":65.05,"y":-0.271},{"x":64.95,"y":-0.292},{"x":65.1,"y":-0.297},{"x":64.9,"y":-0.323},{"x":65.05,"y":-0.328},{"x":64.86,"y":0.017},{"x":67.45,"y":0.273},{"x":67.45,"y":0.265},{"x":67.46,"y":0.258},{"x":67.45,"y":0.25},{"x":67.46,"y":0.054},{"x":67.45,"y":-0.029},{"x":67.45,"y":-0.035},{"x":67.45,"y":-0.045},{"x":69.3,"y":-0.033},{"x":75.3,"y":-0.019},{"x":81.3,"y":-0.01},{"x":87.3,"y":-0.01},{"x":89.93,"y":-0.015},{"x":89.93,"y":-0.035},{"x":89.93,"y":-0.055},{"x":89.93,"y":-0.205},{"x":89.93,"y":-0.218}],
    "WY": [{"x":25.0,"y":-0.005},{"x":25.15,"y":-0.012},{"x":25.3,"y":0.0},{"x":25.45,"y":-0.01},{"x":25.6,"y":-0.004},{"x":25.75,"y":-0.014},{"x":25.9,"y":-0.002},{"x":26.05,"y":-0.01},{"x":26.2,"y":0.002},{"x":26.35,"y":-0.008},{"x":26.5,"y":-0.014},{"x":26.65,"y":-0.004},{"x":26.8,"y":-0.01},{"x":26.95,"y":0.0},{"x":27.1,"y":-0.012},{"x":27.25,"y":-0.004},{"x":27.4,"y":-0.016},{"x":27.55,"y":-0.006},{"x":27.7,"y":-0.01},{"x":27.85,"y":0.0},{"x":28.0,"y":-0.008},{"x":28.15,"y":-0.014},{"x":28.3,"y":-0.004},{"x":28.4,"y":-0.03},{"x":28.42,"y":-0.06},{"x":28.44,"y":-0.09},{"x":28.45,"y":-0.12},{"x":28.47,"y":-0.15},{"x":28.5,"y":-0.1},{"x":28.52,"y":-0.06},{"x":28.55,"y":-0.02},{"x":28.7,"y":-0.008},{"x":28.85,"y":-0.012},{"x":29.0,"y":-0.002},{"x":29.15,"y":-0.01},{"x":29.3,"y":-0.02},{"x":29.35,"y":-0.05},{"x":29.4,"y":-0.08},{"x":29.45,"y":-0.104},{"x":29.5,"y":-0.07},{"x":29.55,"y":-0.03},{"x":29.65,"y":-0.006},{"x":29.8,"y":0.01},{"x":29.9,"y":0.03},{"x":30.0,"y":0.02},{"x":30.05,"y":-0.05},{"x":30.07,"y":-0.15},{"x":30.08,"y":-0.22},{"x":30.1,"y":-0.257},{"x":30.12,"y":-0.273},{"x":30.15,"y":-0.2},{"x":30.18,"y":-0.1},{"x":30.2,"y":-0.085},{"x":30.22,"y":-0.05},{"x":30.3,"y":-0.01},{"x":30.45,"y":0.03},{"x":30.6,"y":0.058},{"x":30.7,"y":0.068},{"x":30.8,"y":0.04},{"x":30.9,"y":0.01},{"x":31.0,"y":-0.005},{"x":31.1,"y":0.05},{"x":31.12,"y":0.1},{"x":31.14,"y":0.15},{"x":31.15,"y":0.199},{"x":31.17,"y":0.19},{"x":31.2,"y":0.17},{"x":31.22,"y":0.12},{"x":31.24,"y":0.07},{"x":31.25,"y":0.02},{"x":31.3,"y":0.14},{"x":31.32,"y":0.185},{"x":31.35,"y":0.08},{"x":31.37,"y":0.03},{"x":31.4,"y":-0.01},{"x":31.55,"y":-0.004},{"x":31.7,"y":-0.012},{"x":31.85,"y":-0.002},{"x":32.0,"y":-0.01},{"x":32.15,"y":-0.016},{"x":32.3,"y":-0.004},{"x":32.45,"y":-0.01},{"x":32.6,"y":0.0},{"x":32.75,"y":-0.012},{"x":32.9,"y":-0.006},{"x":33.05,"y":-0.014},{"x":33.2,"y":-0.002},{"x":33.35,"y":-0.01},{"x":33.5,"y":-0.004},{"x":33.65,"y":-0.012},{"x":33.8,"y":0.0},{"x":33.95,"y":-0.008},{"x":34.1,"y":-0.004},{"x":34.3,"y":0.01},{"x":35.9,"y":0.01},{"x":38.8,"y":0.01},{"x":41.8,"y":0.01},{"x":44.8,"y":0.01},{"x":47.8,"y":0.01},{"x":50.8,"y":0.01},{"x":53.8,"y":0.012},{"x":56.14,"y":0.015},{"x":57.0,"y":0.025},{"x":57.27,"y":0.032},{"x":57.36,"y":0.023},{"x":57.45,"y":0.012},{"x":57.53,"y":0.0},{"x":57.6,"y":-0.006},{"x":57.7,"y":-0.013},{"x":57.8,"y":-0.019},{"x":57.88,"y":-0.024},{"x":58.0,"y":-0.029},{"x":58.14,"y":-0.034},{"x":58.22,"y":-0.04},{"x":58.31,"y":-0.047},{"x":58.4,"y":-0.051},{"x":58.49,"y":-0.055},{"x":58.6,"y":-0.059},{"x":58.75,"y":-0.062},{"x":58.9,"y":-0.063},{"x":59.1,"y":-0.062},{"x":59.25,"y":-0.061},{"x":59.36,"y":-0.06},
      {"g":2,"x":57.3,"y":0.028},{"g":2,"x":57.44,"y":0.041},{"g":2,"x":57.6,"y":0.044},{"g":2,"x":57.75,"y":0.045},{"g":2,"x":57.88,"y":0.046},{"g":2,"x":58.0,"y":0.047},{"g":2,"x":58.14,"y":0.049},{"g":2,"x":58.3,"y":0.05},{"g":2,"x":58.49,"y":0.051},{"g":2,"x":58.5,"y":0.09},{"g":2,"x":58.5,"y":0.141},{"g":2,"x":58.6,"y":0.146},{"g":2,"x":58.75,"y":0.148},{"g":2,"x":58.9,"y":0.147},{"g":2,"x":59.05,"y":0.146},{"g":2,"x":59.2,"y":0.14},{"g":2,"x":59.27,"y":0.1},{"g":2,"x":59.27,"y":0.007},{"g":2,"x":59.4,"y":0.008},{"g":2,"x":59.6,"y":0.004},{"g":2,"x":59.8,"y":0.01},{"g":2,"x":60.0,"y":0.005},{"g":2,"x":60.2,"y":0.012},{"g":2,"x":60.4,"y":0.006},{"g":2,"x":60.6,"y":0.01},{"g":2,"x":60.8,"y":0.004},{"g":2,"x":61.0,"y":0.011},{"g":2,"x":61.2,"y":0.006},{"g":2,"x":61.4,"y":0.012},{"g":2,"x":61.6,"y":0.005},{"g":2,"x":61.8,"y":0.01},{"g":2,"x":62.0,"y":0.004},{"g":2,"x":62.2,"y":0.011},{"g":2,"x":62.4,"y":0.006},{"g":2,"x":62.6,"y":0.012},{"g":2,"x":62.8,"y":0.005},{"g":2,"x":63.0,"y":0.01},{"g":2,"x":63.2,"y":0.004},{"g":2,"x":63.4,"y":0.011},{"g":2,"x":63.6,"y":0.006},{"g":2,"x":63.8,"y":0.012},{"g":2,"x":64.0,"y":0.005},{"g":2,"x":64.2,"y":0.01},{"g":2,"x":64.4,"y":0.004},{"g":2,"x":64.6,"y":0.008},{"g":2,"x":64.75,"y":0.02},{"g":2,"x":64.85,"y":0.045},{"g":2,"x":64.95,"y":0.06},{"g":2,"x":65.05,"y":0.068},{"g":2,"x":65.15,"y":0.065},{"g":2,"x":65.22,"y":0.055},{"g":2,"x":65.27,"y":0.01},{"g":2,"x":65.4,"y":0.004},{"g":2,"x":65.6,"y":0.01},{"g":2,"x":65.8,"y":0.005},{"g":2,"x":66.0,"y":0.011},{"g":2,"x":66.2,"y":0.004},{"g":2,"x":66.4,"y":0.01},{"g":2,"x":66.6,"y":0.003},{"g":2,"x":66.8,"y":0.009},{"g":2,"x":67.0,"y":0.002},{"g":2,"x":67.2,"y":0.008},{"g":2,"x":67.4,"y":0.0},{"g":2,"x":67.44,"y":-0.035},{"g":2,"x":67.46,"y":0.1},{"g":2,"x":67.47,"y":0.26},{"g":2,"x":67.48,"y":0.405},
      {"g":3,"x":24.0,"y":0.031},{"g":3,"x":35.2,"y":0.031},{"g":3,"x":35.2,"y":0.015},{"g":3,"x":35.22,"y":-0.005},{"g":3,"x":35.25,"y":-0.02},{"g":3,"x":35.27,"y":-0.035},{"g":3,"x":35.3,"y":-0.046},{"g":3,"x":37.0,"y":-0.048},{"g":3,"x":40.4,"y":-0.046},{"g":3,"x":45.4,"y":-0.041},{"g":3,"x":51.3,"y":-0.038},{"g":3,"x":57.3,"y":-0.036},{"g":3,"x":63.3,"y":-0.034},{"g":3,"x":69.3,"y":-0.032},{"g":3,"x":75.3,"y":-0.031},{"g":3,"x":81.3,"y":-0.03},{"g":3,"x":87.3,"y":-0.03},{"g":3,"x":90.5,"y":-0.03},
      {"g":4,"x":67.48,"y":-0.001},{"g":4,"x":69.3,"y":0.0},{"g":4,"x":75.3,"y":-0.001},{"g":4,"x":81.3,"y":-0.001},{"g":4,"x":87.3,"y":-0.001},{"g":4,"x":89.95,"y":-0.001},{"g":4,"x":89.95,"y":-0.1},{"g":4,"x":89.97,"y":-0.22}],
    "FO": [{"x":25.0,"y":0.012},{"x":25.15,"y":0.022},{"x":25.3,"y":0.004},{"x":25.45,"y":0.016},{"x":25.6,"y":-0.002},{"x":25.75,"y":0.018},{"x":25.9,"y":0.008},{"x":26.05,"y":0.024},{"x":26.2,"y":0.002},{"x":26.35,"y":0.014},{"x":26.5,"y":0.02},{"x":26.65,"y":-0.004},{"x":26.8,"y":0.012},{"x":26.95,"y":0.03},{"x":27.1,"y":0.01},{"x":27.25,"y":0.018},{"x":27.4,"y":0.0},{"x":27.55,"y":0.016},{"x":27.7,"y":0.022},{"x":27.85,"y":0.006},{"x":28.0,"y":0.014},{"x":28.15,"y":-0.006},{"x":28.3,"y":0.01},{"x":28.45,"y":0.02},{"x":28.6,"y":0.004},{"x":28.75,"y":0.016},{"x":28.9,"y":-0.002},{"x":29.05,"y":0.012},{"x":29.2,"y":0.022},{"x":29.35,"y":0.002},{"x":29.5,"y":0.018},{"x":29.65,"y":0.008},{"x":29.8,"y":0.026},{"x":29.95,"y":-0.004},{"x":30.1,"y":0.01},{"x":30.25,"y":-0.01},{"x":30.4,"y":0.014},{"x":30.55,"y":0.004},{"x":30.7,"y":0.02},{"x":30.85,"y":-0.008},{"x":31.0,"y":0.012},{"x":31.15,"y":0.002},{"x":31.3,"y":0.018},{"x":31.45,"y":-0.012},{"x":31.6,"y":0.006},{"x":31.7,"y":0.036},{"x":31.8,"y":0.014},{"x":31.95,"y":-0.004},{"x":32.1,"y":0.016},{"x":32.25,"y":0.006},{"x":32.4,"y":0.02},{"x":32.55,"y":-0.008},{"x":32.7,"y":0.01},{"x":32.85,"y":0.018},{"x":33.0,"y":-0.006},{"x":33.15,"y":0.008},{"x":33.3,"y":0.022},{"x":33.45,"y":0.002},{"x":33.6,"y":0.014},{"x":33.75,"y":-0.01},{"x":33.9,"y":0.006},{"x":34.05,"y":-0.004},{"x":34.2,"y":0.01},{"x":34.3,"y":0.004},{"x":35.9,"y":0.004},{"x":38.8,"y":0.005},{"x":41.8,"y":0.005},{"x":44.8,"y":0.005},{"x":47.8,"y":0.005},{"x":50.8,"y":0.004},{"x":53.8,"y":0.004},{"x":56.8,"y":0.004},{"x":59.3,"y":0.002},{"x":59.45,"y":-0.002},{"x":59.6,"y":0.003},{"x":59.75,"y":-0.006},{"x":59.9,"y":0.001},{"x":60.05,"y":-0.004},{"x":60.2,"y":0.004},{"x":60.35,"y":-0.007},{"x":60.5,"y":0.0},{"x":60.65,"y":-0.003},{"x":60.8,"y":0.004},{"x":60.95,"y":-0.006},{"x":61.1,"y":0.002},{"x":61.25,"y":-0.004},{"x":61.4,"y":0.003},{"x":61.55,"y":-0.008},{"x":61.7,"y":0.0},{"x":61.85,"y":-0.005},{"x":62.0,"y":0.003},{"x":62.15,"y":-0.003},{"x":62.3,"y":0.004},{"x":62.45,"y":-0.006},{"x":62.6,"y":0.001},{"x":62.75,"y":-0.004},{"x":62.9,"y":0.003},{"x":63.05,"y":-0.007},{"x":63.2,"y":0.0},{"x":63.35,"y":-0.003},{"x":63.5,"y":0.004},{"x":63.65,"y":-0.006},{"x":63.8,"y":0.001},{"x":63.95,"y":-0.005},{"x":64.1,"y":0.002},{"x":64.25,"y":-0.004},{"x":64.4,"y":0.003},{"x":64.55,"y":-0.006},{"x":64.7,"y":0.0},{"x":64.85,"y":-0.008},{"x":65.0,"y":-0.002},{"x":65.15,"y":-0.006},{"x":65.3,"y":0.001},{"x":65.45,"y":-0.005},{"x":65.6,"y":0.002},{"x":65.75,"y":-0.007},{"x":65.9,"y":-0.001},{"x":66.05,"y":-0.005},{"x":66.2,"y":0.002},{"x":66.35,"y":-0.006},{"x":66.5,"y":-0.001},{"x":66.65,"y":-0.007},{"x":66.8,"y":-0.002},{"x":66.95,"y":-0.008},{"x":67.1,"y":-0.003},{"x":67.25,"y":-0.009},{"x":67.4,"y":-0.004},{"g":2,"x":24.0,"y":0.018},{"g":2,"x":91.0,"y":0.018},
      {"g":3,"x":25.07,"y":0.02},{"g":3,"x":25.22,"y":0.006},{"g":3,"x":25.37,"y":0.026},{"g":3,"x":25.52,"y":0.01},{"g":3,"x":25.67,"y":0.0},{"g":3,"x":25.82,"y":0.022},{"g":3,"x":25.97,"y":0.012},{"g":3,"x":26.12,"y":-0.006},{"g":3,"x":26.27,"y":0.016},{"g":3,"x":26.42,"y":0.026},{"g":3,"x":26.57,"y":0.006},{"g":3,"x":26.72,"y":0.018},{"g":3,"x":26.87,"y":0.0},{"g":3,"x":27.02,"y":0.014},{"g":3,"x":27.17,"y":0.024},{"g":3,"x":27.32,"y":0.008},{"g":3,"x":27.47,"y":-0.004},{"g":3,"x":27.62,"y":0.012},{"g":3,"x":27.77,"y":0.026},{"g":3,"x":27.92,"y":0.002},{"g":3,"x":28.07,"y":0.018},{"g":3,"x":28.22,"y":0.008},{"g":3,"x":28.37,"y":0.024},{"g":3,"x":28.52,"y":-0.002},{"g":3,"x":28.67,"y":0.01},{"g":3,"x":28.82,"y":0.022},{"g":3,"x":28.97,"y":0.006},{"g":3,"x":29.12,"y":0.016},{"g":3,"x":29.27,"y":-0.006},{"g":3,"x":29.42,"y":0.01},{"g":3,"x":29.57,"y":0.024},{"g":3,"x":29.72,"y":0.0},{"g":3,"x":29.87,"y":0.014},{"g":3,"x":30.02,"y":0.02},{"g":3,"x":30.17,"y":0.002},{"g":3,"x":30.32,"y":0.016},{"g":3,"x":30.47,"y":-0.006},{"g":3,"x":30.62,"y":0.01},{"g":3,"x":30.77,"y":0.024},{"g":3,"x":30.92,"y":0.004},{"g":3,"x":31.07,"y":-0.008},{"g":3,"x":31.22,"y":0.014},{"g":3,"x":31.37,"y":0.004},{"g":3,"x":31.52,"y":0.02},{"g":3,"x":31.67,"y":-0.006},{"g":3,"x":31.82,"y":0.01},{"g":3,"x":31.97,"y":0.022},{"g":3,"x":32.12,"y":0.002},{"g":3,"x":32.27,"y":-0.01},{"g":3,"x":32.42,"y":0.008},{"g":3,"x":32.57,"y":0.016},{"g":3,"x":32.72,"y":-0.004},{"g":3,"x":32.87,"y":0.006},{"g":3,"x":33.02,"y":0.014},{"g":3,"x":33.17,"y":-0.008},{"g":3,"x":33.32,"y":0.004},{"g":3,"x":33.47,"y":0.016},{"g":3,"x":33.62,"y":0.0},{"g":3,"x":33.77,"y":0.01},{"g":3,"x":33.92,"y":-0.006},{"g":3,"x":34.07,"y":0.008},{"g":3,"x":34.22,"y":0.0}]
  },
  "encoding": {
    "x": {"field": "x", "type": "quantitative", "scale": {"domain": [25, 90], "nice": false, "zero": false},
      "axis": {"title": "Elevation (deg)", "values": [30, 40, 50, 60, 70, 80, 90], "labelPadding": 10, "titlePadding": 10}},
    "y": {"field": "y", "type": "quantitative", "scale": {"domain": [-0.4, 0.4], "nice": false, "zero": false},
      "axis": {"title": "Abberations, labaoX+Y, M7, DICHR", "values": [-0.4, -0.3, -0.2, -0.1, 0, 0.1, 0.2, 0.3, 0.4], "format": ".1f", "labelPadding": 12, "titlePadding": 14}}
  },
  "layer": [
    {"data": {"name": "A1"}, "mark": {"type": "point", "filled": true, "size": 1089, "opacity": 1, "strokeWidth": 0, "clip": true},
      "encoding": {
        "color": {"datum": "Astig1", "type": "nominal",
          "scale": {"domain": ["Astig1", "Astig2", "coma1", "coma2", "labaoX", "labaoY", "wfsX", "wfsY", "Focus", "FLUX"],
            "range": ["black", "black", "orange", "orange", "brown", "brown", "cyan", "cyan", "blue", "blue"]},
          "legend": {"title": null, "orient": "bottom-right", "offset": 16, "padding": 16,
            "labelFont": "DejaVu Sans", "labelFontSize": 32, "labelColor": "black", "labelLimit": 400,
            "symbolSize": 1156, "symbolOffset": 20, "labelOffset": 50, "rowPadding": 15, "symbolStrokeWidth": 0,
            "strokeColor": "#cccccc", "fillColor": "rgba(255,255,255,0.8)", "cornerRadius": 8}},
        "shape": {"datum": "Astig1", "type": "nominal",
          "scale": {"domain": ["Astig1", "Astig2", "coma1", "coma2", "labaoX", "labaoY", "wfsX", "wfsY", "Focus", "FLUX"],
            "range": [
              "M0,-0.62L0.62,0.62L-0.62,0.62Z",
              "M-1.9,-0.12L1.9,-0.12L1.9,0.12L-1.9,0.12Z M-0.34,0A0.34,0.34 0 1,1 0.34,0A0.34,0.34 0 1,1 -0.34,0Z",
              "M0,-0.62L0.62,0.62L-0.62,0.62Z",
              "M-1.9,-0.12L1.9,-0.12L1.9,0.12L-1.9,0.12Z M-0.34,0A0.34,0.34 0 1,1 0.34,0A0.34,0.34 0 1,1 -0.34,0Z",
              "M0,-0.62L0.62,0.62L-0.62,0.62Z",
              "M-1.9,-0.12L1.9,-0.12L1.9,0.12L-1.9,0.12Z M-0.34,0A0.34,0.34 0 1,1 0.34,0A0.34,0.34 0 1,1 -0.34,0Z",
              "M0,-0.62L0.62,0.62L-0.62,0.62Z",
              "M-1.9,-0.12L1.9,-0.12L1.9,0.12L-1.9,0.12Z M-0.34,0A0.34,0.34 0 1,1 0.34,0A0.34,0.34 0 1,1 -0.34,0Z",
              "M-1.9,-0.12L1.9,-0.12L1.9,0.12L-1.9,0.12Z M-0.34,0A0.34,0.34 0 1,1 0.34,0A0.34,0.34 0 1,1 -0.34,0Z",
              "M0,-0.6L0.141,-0.194L0.571,-0.185L0.228,0.074L0.353,0.485L0,0.24L-0.353,0.485L-0.228,0.074L-0.571,-0.185L-0.141,-0.194Z"]},
          "legend": {"title": null, "orient": "bottom-right", "offset": 16, "padding": 16,
            "labelFont": "DejaVu Sans", "labelFontSize": 32, "labelColor": "black", "labelLimit": 400,
            "symbolSize": 1156, "symbolOffset": 20, "labelOffset": 50, "rowPadding": 15, "symbolStrokeWidth": 0,
            "strokeColor": "#cccccc", "fillColor": "rgba(255,255,255,0.8)", "cornerRadius": 8}}}},
    {"data": {"name": "A2"}, "mark": {"type": "line", "strokeWidth": 4.5, "clip": true},
      "encoding": {"color": {"datum": "Astig2", "type": "nominal"}, "detail": {"field": "g"}, "order": {"value": null}}},
    {"data": {"name": "A2"}, "mark": {"type": "circle", "size": 130, "opacity": 1, "clip": true},
      "encoding": {"color": {"datum": "Astig2", "type": "nominal"}}},
    {"data": {"name": "C1"}, "mark": {"type": "point", "filled": true, "shape": "M0,-1L1,1L-1,1Z", "size": 420, "opacity": 1, "clip": true},
      "encoding": {"color": {"datum": "coma1", "type": "nominal"}}},
    {"data": {"name": "C2"}, "mark": {"type": "line", "strokeWidth": 4.5, "clip": true},
      "encoding": {"color": {"datum": "coma2", "type": "nominal"}, "detail": {"field": "g"}, "order": {"value": null}}},
    {"data": {"name": "C2"}, "mark": {"type": "circle", "size": 130, "opacity": 1, "clip": true},
      "encoding": {"color": {"datum": "coma2", "type": "nominal"}}},
    {"data": {"name": "LX"}, "mark": {"type": "point", "filled": true, "shape": "M0,-1L1,1L-1,1Z", "size": 420, "opacity": 1, "clip": true},
      "encoding": {"color": {"datum": "labaoX", "type": "nominal"}}},
    {"data": {"name": "LY"}, "mark": {"type": "line", "strokeWidth": 4.5, "clip": true},
      "encoding": {"color": {"datum": "labaoY", "type": "nominal"}, "detail": {"field": "g"}, "order": {"value": null}}},
    {"data": {"name": "LY"}, "mark": {"type": "circle", "size": 130, "opacity": 1, "clip": true},
      "encoding": {"color": {"datum": "labaoY", "type": "nominal"}}},
    {"data": {"name": "WX"}, "mark": {"type": "point", "filled": true, "shape": "M0,-1L1,1L-1,1Z", "size": 420, "opacity": 1, "clip": true},
      "encoding": {"color": {"datum": "wfsX", "type": "nominal"}}},
    {"data": {"name": "WY"}, "mark": {"type": "line", "strokeWidth": 4.5, "clip": true},
      "encoding": {"color": {"datum": "wfsY", "type": "nominal"}, "detail": {"field": "g"}, "order": {"value": null}}},
    {"data": {"name": "WY"}, "mark": {"type": "circle", "size": 130, "opacity": 1, "clip": true},
      "encoding": {"color": {"datum": "wfsY", "type": "nominal"}}},
    {"data": {"name": "FO"}, "mark": {"type": "line", "strokeWidth": 4.5, "clip": true},
      "encoding": {"color": {"datum": "Focus", "type": "nominal"}, "detail": {"field": "g"}, "order": {"value": null}}},
    {"data": {"name": "FO"}, "mark": {"type": "circle", "size": 130, "opacity": 1, "clip": true},
      "encoding": {"color": {"datum": "Focus", "type": "nominal"}}}
  ]
}
